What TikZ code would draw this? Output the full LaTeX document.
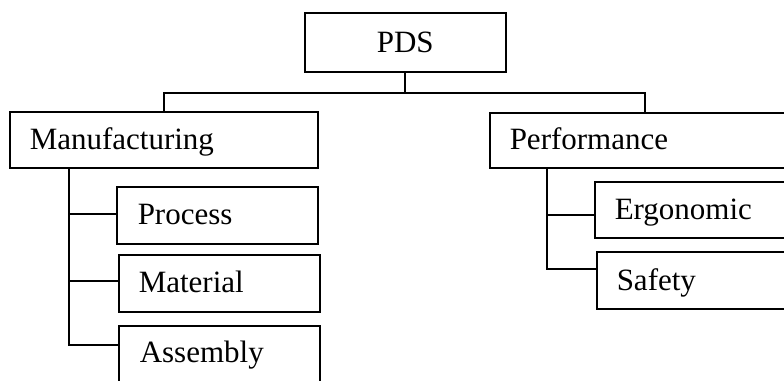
\documentclass[tikz,border=0pt]{standalone}
\usepackage{fontspec}
\setmainfont{Liberation Serif}
\usetikzlibrary{calc}
\begin{document}
\begin{tikzpicture}[x=1pt,y=-1pt,
  box/.style={draw=black, line width=1.5pt, inner ysep=0pt, inner xsep=20pt,
    anchor=north west, align=left, font=\fontsize{31}{36}\selectfont},
  link/.style={draw=black, line width=1.8pt}]
\useasboundingbox (0,0) rectangle (784,380);
\clip (0,0) rectangle (784,380);
% boxes
\node[box, align=center, inner xsep=0pt, text width=201pt, text height=40pt, text depth=19pt] (pds) at (304,12) {PDS};
\node[box, text width=268pt, text height=38pt, text depth=18pt] (man) at (9,111) {Manufacturing};
\node[box, text width=271pt, text height=37pt, text depth=18pt] (perf) at (489,112) {Performance};
\node[box, inner xsep=21pt, text width=159pt, text height=38pt, text depth=19pt] (proc) at (116,186) {Process};
\node[box, text width=161pt, text height=38pt, text depth=19pt] (mat) at (118,254) {Material};
\node[box, inner xsep=21pt, text width=159pt, text height=37pt, text depth=20pt] (asm) at (118,325) {Assembly};
\node[box, text width=166pt, text height=38pt, text depth=18pt] (ergo) at (594,181) {Ergonomic};
\node[box, text width=164pt, text height=39pt, text depth=18pt] (safe) at (596,251) {Safety};
% connector points
\coordinate (bus) at (404,93);
\coordinate (mt) at (69,167);
\coordinate (pt) at (547,167);
\coordinate (procin) at ($(proc.north west)+(0,28)$);
\coordinate (matin) at ($(mat.north west)+(0,27)$);
\coordinate (asmin) at ($(asm.north west)+(0,20)$);
\coordinate (ergoin) at ($(ergo.north west)+(0,34)$);
\coordinate (safein) at ($(safe.north west)+(0,18)$);
% connectors
\draw[link] (pds.south) -- (pds.south |- bus);
\draw[link] (man.north) |- (bus) -| (perf.north);
\draw[link] (mt) |- (asmin);
\draw[link] (mt |- procin) -- (procin);
\draw[link] (mt |- matin) -- (matin);
\draw[link] (pt) |- (safein);
\draw[link] (pt |- ergoin) -- (ergoin);
\end{tikzpicture}
\end{document}
